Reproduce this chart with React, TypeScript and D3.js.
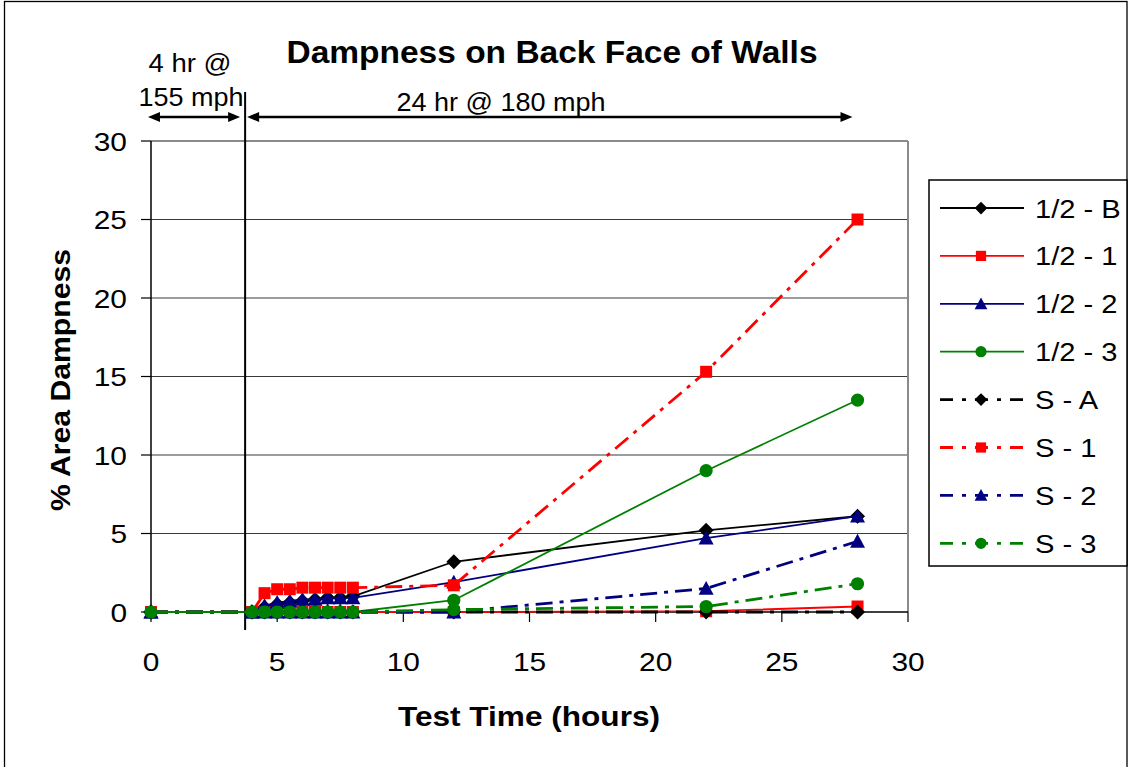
import React from "react";
import * as d3 from "d3";

// Test time (hours) at which each reading was taken
const hours = [0, 4, 4.5, 5, 5.5, 6, 6.5, 7, 7.5, 8, 12, 22, 28];

// % area dampness per wall specimen
const halfB = [0, 0, 0.3, 0.5, 0.6, 0.7, 0.8, 0.9, 0.9, 1.0, 3.2, 5.2, 6.1];
const half1 = [0, 0, 0, 0, 0, 0, 0, 0, 0, 0, 0, 0.05, 0.35];
const half2 = [0, 0, 0.4, 0.6, 0.7, 0.8, 0.8, 0.9, 0.9, 0.9, 1.9, 4.7, 6.1];
const half3 = [0, 0, 0, 0, 0, 0, 0, 0, 0, 0, 0.75, 9.0, 13.5];
const sA = [0, 0, 0, 0, 0, 0, 0, 0, 0, 0, 0, 0, 0];
const s1 = [0, 0, 1.2, 1.45, 1.45, 1.55, 1.55, 1.55, 1.55, 1.55, 1.7, 15.3, 25];
const s2 = [0, 0, 0, 0, 0, 0, 0, 0, 0, 0, 0, 1.5, 4.5];
const s3 = [0, 0, 0, 0, 0, 0, 0, 0, 0, 0, 0.15, 0.35, 1.8];

const seriesNames = ["1/2 - B", "1/2 - 1", "1/2 - 2", "1/2 - 3", "S - A", "S - 1", "S - 2", "S - 3"];
const seriesValues = [halfB, half1, half2, half3, sA, s1, s2, s3];
const seriesColors = ["#000000", "#ff0000", "#000080", "#008000", "#000000", "#ff0000", "#000080", "#008000"];
const seriesMarkers = ["diamond", "square", "triangle", "circle", "diamond", "square", "triangle", "circle"];
const seriesDashed = [false, false, false, false, true, true, true, true];

const xTicks = [0, 5, 10, 15, 20, 25, 30];
const yTicks = [0, 5, 10, 15, 20, 25, 30];

// Test phases drawn above the plot
const phaseStart = 0;
const phaseSplit = 3.73;
const phaseEnd = 27.8;
const phase1Label = ["4 hr @", "155 mph"];
const phase2Label = "24 hr @ 180 mph";

const FONT = "'Liberation Sans', Arial, sans-serif";

function markerPath(kind: string, cx: number, cy: number, k = 1): string {
  if (kind === "diamond") {
    const r = 7.5 * k;
    return `M${cx},${cy - r}L${cx + r},${cy}L${cx},${cy + r}L${cx - r},${cy}Z`;
  }
  if (kind === "square") {
    const h = 6 * k;
    return `M${cx - h},${cy - h}H${cx + h}V${cy + h}H${cx - h}Z`;
  }
  if (kind === "triangle") {
    const h = 7.5 * k;
    return `M${cx},${cy - h}L${cx + h},${cy + h * 0.85}L${cx - h},${cy + h * 0.85}Z`;
  }
  const r = 6.6 * k;
  return `M${cx + r},${cy}A${r},${r} 0 1,1 ${cx - r},${cy}A${r},${r} 0 1,1 ${cx + r},${cy}Z`;
}

// Horizontally stretched text, like the original chart's typography
function SText(props: {
  x: number; y: number; text: string; size: number; bold?: boolean;
  anchor?: "start" | "middle" | "end"; sx?: number; rotate?: number;
}) {
  const { x, y, text, size, bold, anchor = "start", sx = 1.15, rotate = 0 } = props;
  return (
    <g transform={`translate(${x},${y}) rotate(${rotate}) scale(${sx},1)`}>
      <text
        x={0}
        y={0}
        fontFamily={FONT}
        fontSize={size}
        fontWeight={bold ? "bold" : "normal"}
        textAnchor={anchor}
        fill="#000"
      >
        {text}
      </text>
    </g>
  );
}

function Arrow({ x1, x2, y }: { x1: number; x2: number; y: number }) {
  const L = 12;
  const W = 5;
  return (
    <g>
      <line x1={x1 + L - 1} x2={x2 - L + 1} y1={y} y2={y} stroke="#000" strokeWidth={2.5} />
      <path d={`M${x1},${y}L${x1 + L},${y - W}L${x1 + L},${y + W}Z`} fill="#000" />
      <path d={`M${x2},${y}L${x2 - L},${y - W}L${x2 - L},${y + W}Z`} fill="#000" />
    </g>
  );
}

export default function App() {
  const width = 1130;
  const height = 767;
  const x = d3.scaleLinear().domain([0, 30]).range([151, 908]);
  const y = d3.scaleLinear().domain([0, 30]).range([612, 141]);
  const [x0, x1] = x.range();
  const [y0, y1] = y.range();

  const line = d3
    .line<[number, number]>()
    .x((d) => x(d[0]))
    .y((d) => y(d[1]));

  const dashPattern = "17,7,4,7";

  const legendX = 929;
  const legendY = 180;
  const legendW = 198;
  const legendH = 386;
  const rowY = (i: number) => 208 + i * 47.9;

  const splitX = x(phaseSplit);

  return (
    <svg
      width={width}
      height={height}
      style={{ position: "absolute", left: 0, top: 0, background: "#fff" }}
    >
      <rect x={0} y={0} width={width} height={height} fill="#fff" />
      <rect x={4.5} y={1.5} width={1122.5} height={775} fill="none" stroke="#000" strokeWidth={1.3} />

      {/* title */}
      <text
        x={552}
        y={63}
        fontFamily={FONT}
        fontSize={32}
        fontWeight="bold"
        textAnchor="middle"
        textLength={531}
        lengthAdjust="spacingAndGlyphs"
      >
        Dampness on Back Face of Walls
      </text>

      {/* gridlines */}
      {yTicks
        .filter((t) => t > 0)
        .map((t) => (
          <line key={`g${t}`} x1={x0} x2={x1} y1={y(t)} y2={y(t)} stroke="#3a3a3a" strokeWidth={1.2} />
        ))}
      {/* plot area frame */}
      <line x1={x0} x2={x1} y1={y1} y2={y1} stroke="#8a8a8a" strokeWidth={2} />
      <line x1={x1} x2={x1} y1={y1} y2={y0} stroke="#8a8a8a" strokeWidth={2} />

      {/* axes */}
      <line x1={x0} x2={x0} y1={y1} y2={y0} stroke="#000" strokeWidth={1.5} />
      <line x1={x0} x2={x1} y1={y0} y2={y0} stroke="#000" strokeWidth={1.5} />
      {yTicks.map((t) => (
        <g key={`yt${t}`}>
          <line x1={x0 - 10} x2={x0} y1={y(t)} y2={y(t)} stroke="#000" strokeWidth={1.2} />
          <SText x={127} y={y(t) + 9.5} text={String(t)} size={26} anchor="end" />
        </g>
      ))}
      {xTicks.map((t) => (
        <g key={`xt${t}`}>
          <line x1={x(t)} x2={x(t)} y1={y0} y2={y0 + 10} stroke="#000" strokeWidth={1.2} />
          <SText x={x(t)} y={671} text={String(t)} size={26} anchor="middle" />
        </g>
      ))}

      {/* axis titles */}
      <text
        x={529}
        y={726}
        fontFamily={FONT}
        fontSize={28}
        fontWeight="bold"
        textAnchor="middle"
        textLength={262}
        lengthAdjust="spacingAndGlyphs"
      >
        Test Time (hours)
      </text>
      <text
        transform={`translate(70,380) rotate(-90)`}
        fontFamily={FONT}
        fontSize={28}
        fontWeight="bold"
        textAnchor="middle"
        textLength={262}
        lengthAdjust="spacingAndGlyphs"
      >
        % Area Dampness
      </text>

      {/* test phase annotations */}
      <line x1={splitX} x2={splitX} y1={92} y2={630} stroke="#000" strokeWidth={2} />
      <Arrow x1={x(phaseStart) - 3} x2={splitX - 5} y={117} />
      <Arrow x1={splitX + 2} x2={x(phaseEnd)} y={117} />
      <SText x={190} y={72} text={phase1Label[0]} size={25} anchor="middle" sx={1.1} />
      <SText x={191} y={106} text={phase1Label[1]} size={25} anchor="middle" sx={1.08} />
      <SText x={501} y={111} text={phase2Label} size={25} anchor="middle" sx={1.08} />

      {/* series */}
      {seriesValues.map((vals, si) => {
        const pts: [number, number][] = hours.map((h, i) => [h, vals[i]]);
        return (
          <g key={`s${si}`}>
            <path
              d={line(pts) || ""}
              fill="none"
              stroke={seriesColors[si]}
              strokeWidth={seriesDashed[si] ? 2.8 : 1.8}
              strokeDasharray={seriesDashed[si] ? dashPattern : undefined}
            />
            {pts.map((p, i) => (
              <path key={i} d={markerPath(seriesMarkers[si], x(p[0]), y(p[1]))} fill={seriesColors[si]} />
            ))}
          </g>
        );
      })}

      {/* legend */}
      <rect x={legendX} y={legendY} width={legendW} height={legendH} fill="#fff" stroke="#000" strokeWidth={1.5} />
      {seriesNames.map((name, i) => {
        const cy = rowY(i);
        return (
          <g key={`l${i}`}>
            <line
              x1={940}
              x2={1024}
              y1={cy}
              y2={cy}
              stroke={seriesColors[i]}
              strokeWidth={seriesDashed[i] ? 2.8 : 1.8}
              strokeDasharray={seriesDashed[i] ? "13,9,4,9" : undefined}
            />
            <path d={markerPath(seriesMarkers[i], 981, cy, 0.85)} fill={seriesColors[i]} />
            <SText x={1035} y={cy + 9.5} text={name} size={26} anchor="start" sx={1.12} />
          </g>
        );
      })}
    </svg>
  );
}
